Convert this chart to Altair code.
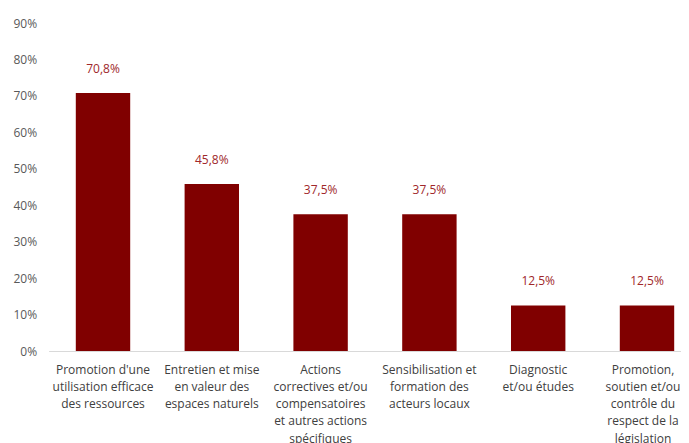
import altair as alt
import pandas as pd

categories = [
    "Promotion d'une|utilisation efficace|des ressources",
    "Entretien et mise|en valeur des|espaces naturels",
    "Actions|correctives et/ou|compensatoires|et autres actions|spécifiques",
    "Sensibilisation et|formation des|acteurs locaux",
    "Diagnostic|et/ou études",
    "Promotion,|soutien et/ou|contrôle du|respect de la|législation",
]
values = [70.8, 45.8, 37.5, 37.5, 12.5, 12.5]
y_ticks = [0, 10, 20, 30, 40, 50, 60, 70, 80, 90]

df = pd.DataFrame({"cat": categories, "v": values})

FONT = "Open Sans"
BAR = "#800000"
LABEL = "#A0282B"

base = alt.Chart(df).encode(
    x=alt.X(
        "cat:N",
        sort=categories,
        scale=alt.Scale(paddingInner=0.5, paddingOuter=0.15625, align=0.8),
        axis=alt.Axis(
            title=None,
            labelAngle=0,
            labelExpr="split(datum.label, '|')",
            labelLineHeight=17.3,
            labelFontSize=12,
            labelFont=FONT,
            labelColor="#404040",
            labelPadding=13,
            labelOffset={"condition": {"test": "indexof(datum.value, 'gislation') >= 0", "value": -4}, "value": 0},
            ticks=False,
            domainColor="#D9D9D9",
            labelLimit=200,
        ),
    ),
    y=alt.Y(
        "v:Q",
        scale=alt.Scale(domain=[0, 90], nice=False),
        axis=alt.Axis(
            title=None,
            values=y_ticks,
            labelExpr="datum.value + '%'",
            labelFontSize=12,
            labelFont=FONT,
            labelColor="#595959",
            labelPadding=12,
            ticks=False,
            domain=False,
            grid=False,
        ),
    ),
)

bars = base.mark_bar(color=BAR)
text = base.mark_text(
    dy=-17, baseline="bottom", font=FONT, fontSize=12, color=LABEL
).transform_calculate(
    lab="replace(format(datum.v, '.1f'), '.', ',') + '%'"
).encode(text="lab:N")

chart = (
    alt.layer(bars, text)
    .properties(
        width=632.4,
        height=328,
        autosize=alt.AutoSizeParams(type="none"),
        padding={"left": 40.6, "top": 15, "right": 0, "bottom": 100},
    )
    .configure_view(stroke=None)
)

chart.save("out.html", embed_options={"renderer": "svg", "actions": False})
